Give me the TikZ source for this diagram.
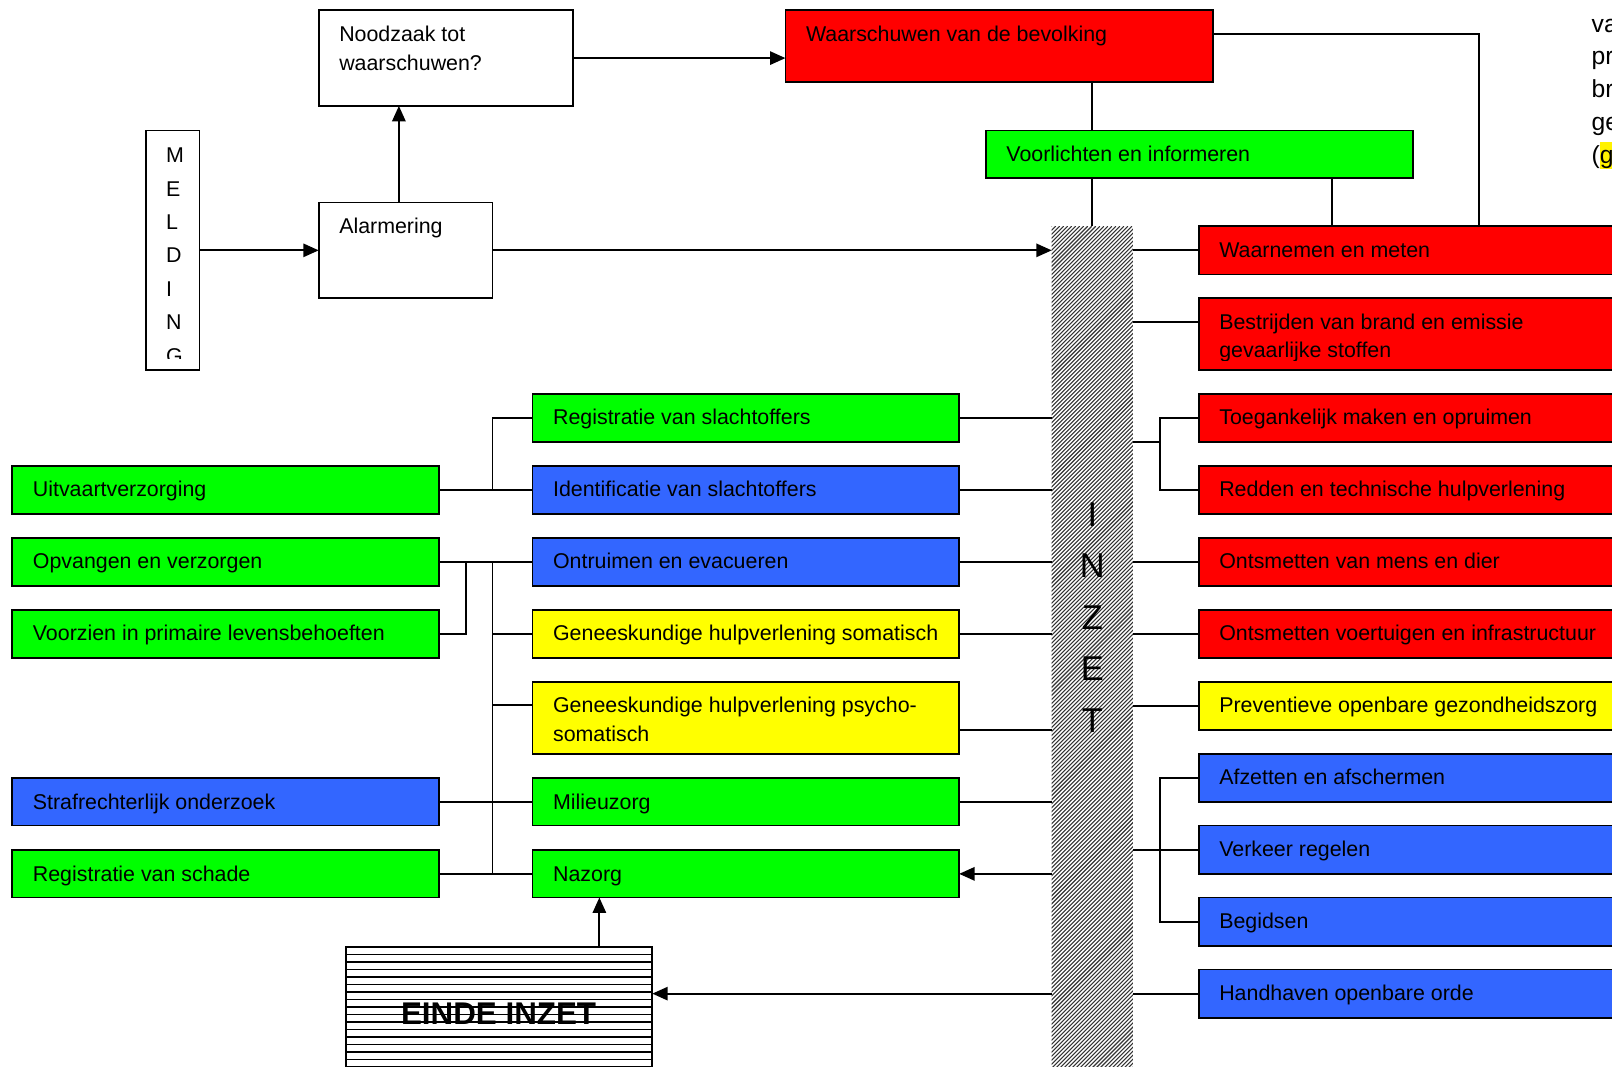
\documentclass[tikz,border=0pt]{standalone}
\usepackage{fontspec}
\setmainfont{Liberation Sans}
\usetikzlibrary{arrows.meta,calc}
\definecolor{rd}{RGB}{255,0,0}
\definecolor{gr}{RGB}{0,255,0}
\definecolor{bl}{RGB}{51,102,255}
\definecolor{ye}{RGB}{255,255,0}
\newcommand\mybox[7]{%
  \node[box,fill=#6,minimum width={#4-#2},minimum height={#5-#3}] (#1) at (#2,#3) {};
  \node[txt] (#1-t) at (#2+20,#3+10.5) {\strut #7};}
\begin{document}
\begin{tikzpicture}[x=1pt,y=-1pt,
  box/.style={draw=black,line width=1.8pt,rectangle,inner sep=0pt,outer sep=0pt,anchor=north west},
  txt/.style={anchor=north west,inner sep=0pt,outer sep=0pt,align=left,font=\fontsize{20.8}{28}\selectfont},
  conn/.style={line width=1.8pt},
  arr/.style={conn,-{Triangle[length=15pt,width=13pt]}}]
\useasboundingbox (0,0) rectangle (1568,1037);

% INZET bar
\node[inner sep=0pt,outer sep=0pt,minimum width=79,minimum height=825,anchor=north west] (inzet) at (1023,220) {};
\begin{scope}
  \clip (1023,220) rectangle (1102,1045);
  \foreach \k in {0,...,235} \draw[line width=1.05pt,black!80] (1023-825+3.9*\k,1045) -- ++(825,-825);
\end{scope}
\node[anchor=north,inner sep=0pt,align=center,font=\fontsize{33.5}{50}\selectfont] (inzet-t) at (1062.5,477) {\strut I\\N\\Z\\E\\T};

% MELDING
\node[box,fill=white,minimum width=52,minimum height=233] (meld) at (142,127) {};
\begin{scope}
  \clip (142,127) rectangle (194,349);
  \node[anchor=north west,inner sep=0pt,align=left,font=\fontsize{20.8}{32.5}\selectfont] (meld-t) at (161.5,135.25) {\strut M\\E\\L\\D\\I\\N\\G};
\end{scope}

% top boxes
\mybox{nood}{310}{10}{557}{103}{white}{Noodzaak tot\\waarschuwen?}
\mybox{alarm}{310}{197}{479}{290}{white}{Alarmering}
\mybox{warn}{764}{10}{1180}{80}{rd}{Waarschuwen van de bevolking}
\mybox{voor}{959}{127}{1374}{173}{gr}{Voorlichten en informeren}

% right column
\mybox{waar}{1166}{220}{1580}{267}{rd}{Waarnemen en meten}
\node[box,fill=rd,minimum width=414,minimum height=70] (best) at (1166,290) {};
\begin{scope}
  \clip (1166,290) rectangle (1580,351);
  \node[txt] (best-t) at (1186,300.5) {\strut Bestrijden van brand en emissie\\gevaarlijke stoffen};
\end{scope}
\mybox{toeg}{1166}{383}{1580}{430}{rd}{Toegankelijk maken en opruimen}
\mybox{redd}{1166}{453}{1580}{500}{rd}{Redden en technische hulpverlening}
\mybox{ontm}{1166}{523}{1580}{570}{rd}{Ontsmetten van mens en dier}
\mybox{ontv}{1166}{593}{1580}{640}{rd}{Ontsmetten voertuigen en infrastructuur}
\mybox{prev}{1166}{663}{1580}{710}{ye}{Preventieve openbare gezondheidszorg}
\mybox{afz}{1166}{733}{1580}{780}{bl}{Afzetten en afschermen}
\mybox{verk}{1166}{803}{1580}{850}{bl}{Verkeer regelen}
\mybox{begi}{1166}{873}{1580}{920}{bl}{Begidsen}
\mybox{hand}{1166}{943}{1580}{990}{bl}{Handhaven openbare orde}

% middle column
\mybox{regs}{518}{383}{933}{430}{gr}{Registratie van slachtoffers}
\mybox{iden}{518}{453}{933}{500}{bl}{Identificatie van slachtoffers}
\mybox{ontr}{518}{523}{933}{570}{bl}{Ontruimen en evacueren}
\mybox{gsom}{518}{593}{933}{640}{ye}{Geneeskundige hulpverlening somatisch}
\mybox{gpsy}{518}{663}{933}{733}{ye}{Geneeskundige hulpverlening psycho-\\somatisch}
\mybox{mili}{518}{757}{933}{803}{gr}{Milieuzorg}
\mybox{naz}{518}{827}{933}{873}{gr}{Nazorg}

% left column
\mybox{uitv}{12}{453}{427}{500}{gr}{Uitvaartverzorging}
\mybox{opv}{12}{523}{427}{570}{gr}{Opvangen en verzorgen}
\mybox{voorz}{12}{593}{427}{640}{gr}{Voorzien in primaire levensbehoeften}
\mybox{straf}{12}{757}{427}{803}{bl}{Strafrechterlijk onderzoek}
\mybox{rsch}{12}{827}{427}{873}{gr}{Registratie van schade}

% EINDE INZET
\node[box,fill=white,minimum width=298,minimum height=124] (einde) at (336.5,921) {};
\foreach \k in {1,...,16} \draw[line width=1.3pt] (336.5,921+7.3*\k) -- (634.5,921+7.3*\k);
\node[inner sep=0pt,anchor=base,font=\fontsize{30.5}{36}\selectfont\bfseries] (einde-t) at (485,997) {EINDE INZET};

% side text
\node[anchor=north west,inner sep=0pt,align=left,font=\fontsize{24}{32}\selectfont] (side-t) at (1548,8.6)
  {\strut va\\pr\\br\\ge\\({\setlength{\fboxsep}{0pt}\colorbox{yellow}{\rule[-4.7pt]{0pt}{25.9pt}g}}};

% top connectors
\draw[arr] (meld.east) -- (alarm.west);
\coordinate (aN) at ([xshift=-6.5pt]alarm.north);
\draw[arr] (aN) -- (aN |- nood.south);
\draw[arr] (nood.east) -- (nood.east -| warn.west);
\draw[arr] (alarm.east) -- (alarm.east -| inzet.west);
\draw[conn] ([yshift=12pt]warn.east) -| ($(waar.north west)+(273,0)$);
\draw[conn] (warn.south -| inzet.north) -- (voor.north -| inzet.north);
\draw[conn] (voor.south -| inzet.north) -- (inzet.north);
\draw[conn] ($(voor.south west)+(337,0)$) -- ($(waar.north west)+(130,0)$);

% right connectors
\draw[conn] (inzet.east |- waar.west) -- (waar.west);
\coordinate (bestL) at ($(best.north west)+(0,23)$);
\draw[conn] (inzet.east |- bestL) -- (bestL);
\draw[conn] (inzet.east |- toeg.south) -- ($(toeg.south west)+(-38,0)$);
\draw[conn] (toeg.west) -- ++(-38,0) |- (redd.west);
\draw[conn] (inzet.east |- ontm.west) -- (ontm.west);
\draw[conn] (inzet.east |- ontv.west) -- (ontv.west);
\draw[conn] (inzet.east |- prev.west) -- (prev.west);
\draw[conn] (afz.west) -- ++(-38,0) |- (begi.west);
\draw[conn] (inzet.east |- verk.west) -- (verk.west);
\draw[conn] (inzet.east |- hand.west) -- (hand.west);
\draw[arr] (inzet.west |- hand.west) -- (hand.west -| einde.east);

% middle connectors
\draw[conn] (regs.east) -- (regs.east -| inzet.west);
\draw[conn] (iden.east) -- (iden.east -| inzet.west);
\draw[conn] (ontr.east) -- (ontr.east -| inzet.west);
\draw[conn] (gsom.east) -- (gsom.east -| inzet.west);
\coordinate (gpsyR) at ($(gpsy.north east)+(0,47)$);
\draw[conn] (gpsyR) -- (gpsyR -| inzet.west);
\draw[conn] (mili.east) -- (mili.east -| inzet.west);
\draw[arr] (naz.east -| inzet.west) -- (naz.east);
\coordinate (nzA) at ($(naz.south west)+(65,0)$);
\draw[arr] (nzA |- einde.north) -- (nzA);

% left connectors
\draw[conn] (iden.west) -- ++(-39,0) |- (regs.west);
\draw[conn] (uitv.east) -- (iden.west);
\draw[conn] (opv.east) -- (ontr.west);
\draw[conn] (voorz.east) -- ++(26,0) |- (opv.east);
\draw[conn] ($(ontr.west)+(-39,0)$) -- ($(naz.west)+(-39,0)$);
\draw[conn] (gsom.west) -- ++(-39,0);
\coordinate (gpsyL) at ($(gpsy.north west)+(0,23)$);
\draw[conn] (gpsyL) -- ++(-39,0);
\draw[conn] (straf.east) -- (mili.west);
\draw[conn] (rsch.east) -- (naz.west);
\end{tikzpicture}
\end{document}
